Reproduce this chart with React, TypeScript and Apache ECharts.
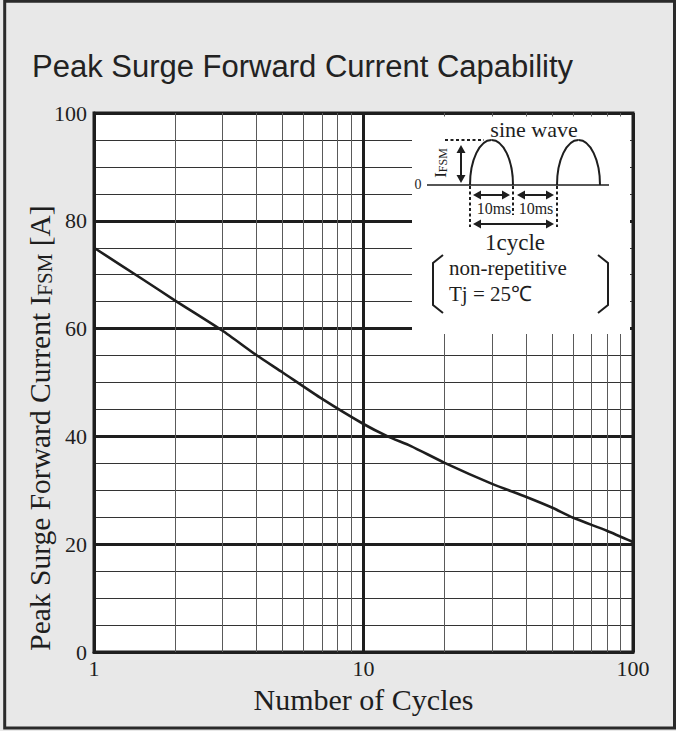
import React, { useEffect, useRef } from "react";
import * as echarts from "echarts";

// Data
const cycles = [1, 1.5, 2, 3, 4, 5, 7, 10, 12.3, 15, 20, 30, 40, 50, 60, 80, 100];
const current = [75, 69.3, 65.2, 59.6, 55.1, 51.9, 47, 42.3, 40, 38.2, 35.1, 31.2, 28.8, 26.8, 24.9, 22.5, 20.4];
const minorCycleLines = [2, 3, 4, 5, 6, 7, 8, 9, 20, 30, 40, 50, 60, 70, 80, 90];

const titleText = "Peak Surge Forward Current Capability";
const xName = "Number of Cycles";

const SERIF = '"Liberation Serif", "Times New Roman", serif';
const SANS = '"Liberation Sans", Arial, Helvetica, sans-serif';
const INK = "#1e1e1e";

function head(x: number, y: number, dir: string) {
  const L = 8, W = 4.5;
  let pts: number[][] = [];
  if (dir === "left") pts = [[x, y], [x + L, y - W], [x + L, y + W]];
  if (dir === "right") pts = [[x, y], [x - L, y - W], [x - L, y + W]];
  if (dir === "up") pts = [[x, y], [x - W, y + L], [x + W, y + L]];
  if (dir === "down") pts = [[x, y], [x - W, y - L], [x + W, y - L]];
  return { type: "polygon", z: 20, shape: { points: pts }, style: { fill: INK } };
}

function line(x1: number, y1: number, x2: number, y2: number, dash?: boolean, w = 2) {
  return {
    type: "line",
    z: 20,
    shape: { x1, y1, x2, y2 },
    style: { stroke: INK, lineWidth: w, lineDash: dash ? [3, 2.5] : null },
  };
}

function hArrow(x1: number, x2: number, y: number) {
  return [line(x1 + 4, y, x2 - 4, y), head(x1, y, "left"), head(x2, y, "right")];
}

function hump(x0: number, x1: number, yb: number, yt: number) {
  const k = 0.5523;
  const xc = (x0 + x1) / 2;
  const rx = (x1 - x0) / 2;
  const ry = yb - yt;
  const st = { stroke: INK, lineWidth: 2, fill: "none" };
  return [
    {
      type: "bezierCurve", z: 20,
      shape: { x1: x0, y1: yb, cpx1: x0, cpy1: yb - k * ry, cpx2: xc - k * rx, cpy2: yt, x2: xc, y2: yt },
      style: st,
    },
    {
      type: "bezierCurve", z: 20,
      shape: { x1: xc, y1: yt, cpx1: xc + k * rx, cpy1: yt, cpx2: x1, cpy2: yb - k * ry, x2: x1, y2: yb },
      style: st,
    },
  ];
}

function txt(text: string, x: number, y: number, size: number, align = "center", extra: any = {}) {
  return {
    type: "text",
    z: 20,
    x,
    y,
    style: {
      text,
      fontFamily: SERIF,
      fontSize: size,
      fill: INK,
      align,
      verticalAlign: "middle",
      ...extra,
    },
  };
}

function buildGraphic() {
  const els: any[] = [];
  // outer frame
  els.push({
    type: "rect", z: 30,
    shape: { x: 4.7, y: 1.3, width: 669.8, height: 726.7 },
    style: { fill: "none", stroke: "#2a2a2a", lineWidth: 3 },
  });
  // inset background
  els.push({ type: "rect", z: 15, shape: { x: 412, y: 116.5, width: 218, height: 217.5 }, style: { fill: "#fff" } });
  els.push(txt("sine wave", 534, 129, 22, "center", { lineHeight: 20 }));
  els.push(line(427, 185, 609, 185, false, 1.5));
  els.push(txt("0", 418, 184, 14));
  els.push(...hump(470, 513, 185, 140));
  els.push(...hump(557, 600, 185, 140));
  els.push(line(445, 140, 484, 140, true));
  // IFSM rotated
  els.push({
    type: "text", z: 20, x: 440, y: 163, rotation: Math.PI / 2,
    style: {
      text: "{a|I}{b|FSM}",
      align: "center",
      verticalAlign: "middle",
      fill: INK,
      rich: {
        a: { fontFamily: SERIF, fontSize: 17, fill: INK, verticalAlign: "bottom" },
        b: { fontFamily: SERIF, fontSize: 12, fill: INK, verticalAlign: "bottom" },
      },
    },
  });
  // vertical double arrow
  els.push(line(461, 149, 461, 179));
  els.push(head(461, 145, "up"));
  els.push(head(461, 183, "down"));
  // dashed verticals
  els.push(line(470, 186, 470, 227, true));
  els.push(line(513, 186, 513, 215, true));
  els.push(line(557, 186, 557, 227, true));
  els.push(...hArrow(473, 510, 195));
  els.push(...hArrow(517, 554, 195));
  els.push(txt("10ms", 494, 208, 16, "center", { lineHeight: 15 }));
  els.push(txt("10ms", 536, 208, 16, "center", { lineHeight: 15 }));
  els.push(...hArrow(473, 554, 224));
  els.push(txt("1cycle", 515, 242, 23, "center", { lineHeight: 21 }));
  // brackets
  els.push({
    type: "polyline", z: 20,
    shape: { points: [[443, 255], [433, 263], [433, 305], [443, 313]] },
    style: { stroke: INK, lineWidth: 2, fill: "none" },
  });
  els.push({
    type: "polyline", z: 20,
    shape: { points: [[598, 255], [608, 263], [608, 305], [598, 313]] },
    style: { stroke: INK, lineWidth: 2, fill: "none" },
  });
  els.push(txt("non-repetitive", 449, 268, 21, "left", { lineHeight: 20 }));
  els.push(txt("Tj = 25\u2103", 449, 294, 21, "left", { lineHeight: 20 }));
  // y axis name
  els.push({
    type: "text", z: 20, x: 40, y: 428, rotation: Math.PI / 2,
    style: {
      text: "{a|Peak Surge Forward Current I}{b|FSM}{a| [A]}",
      align: "center",
      verticalAlign: "middle",
      fill: INK,
      rich: {
        a: { fontFamily: SERIF, fontSize: 29.5, fill: INK, verticalAlign: "bottom" },
        b: { fontFamily: SERIF, fontSize: 21, fill: INK, verticalAlign: "bottom" },
      },
    },
  });
  return els;
}

export default function App() {
  const ref = useRef<HTMLDivElement>(null);
  useEffect(() => {
    if (!ref.current) return;
    const chart = echarts.init(ref.current, null, { renderer: "svg" });
    chart.setOption({
      animation: false,
      backgroundColor: "#e8e8e8",
      title: {
        text: titleText,
        left: 27,
        top: 46,
        textStyle: { fontFamily: SANS, fontSize: 31, fontWeight: "normal", color: "#222" },
      },
      grid: {
        left: 94, right: 43, top: 113, bottom: 79,
        show: true, backgroundColor: "#fff", borderColor: INK, borderWidth: 3,
      },
      xAxis: {
        type: "log",
        logBase: 10,
        min: 1,
        max: 100,
        name: xName,
        nameLocation: "middle",
        nameGap: 32,
        nameTextStyle: { fontFamily: SERIF, fontSize: 30, color: INK },
        axisLine: { show: true, lineStyle: { color: INK, width: 3 } },
        axisTick: { show: false },
        axisLabel: { fontFamily: SERIF, fontSize: 22, color: INK, margin: 5 },
        splitLine: { show: true, lineStyle: { color: INK, width: 3 } },
      },
      yAxis: {
        type: "value",
        min: 0,
        max: 100,
        interval: 20,
        axisLine: { show: true, lineStyle: { color: INK, width: 3 } },
        axisTick: { show: false },
        axisLabel: { fontFamily: SERIF, fontSize: 22, color: INK, margin: 7 },
        splitLine: { show: true, lineStyle: { color: INK, width: 3 } },
        minorTick: { show: false, splitNumber: 4 },
        minorSplitLine: { show: true, lineStyle: { color: "#333", width: 1 } },
      },
      series: [
        {
          type: "line",
          data: cycles.map((c, i) => [c, current[i]]),
          showSymbol: false,
          symbol: "none",
          smooth: 0.2,
          lineStyle: { color: INK, width: 2.6 },
          z: 5,
          markLine: {
            silent: true,
            symbol: "none",
            label: { show: false },
            lineStyle: { color: "#5a5a5a", width: 1, type: "solid" },
            emphasis: { disabled: true },
            data: minorCycleLines.map((v) => ({ xAxis: v })),
            z: 1,
          },
        },
      ],
      graphic: buildGraphic(),
    });
    return () => chart.dispose();
  }, []);
  return (
    <div
      ref={ref}
      style={{ position: "absolute", left: 0, top: 0, width: 676, height: 731 }}
    />
  );
}
